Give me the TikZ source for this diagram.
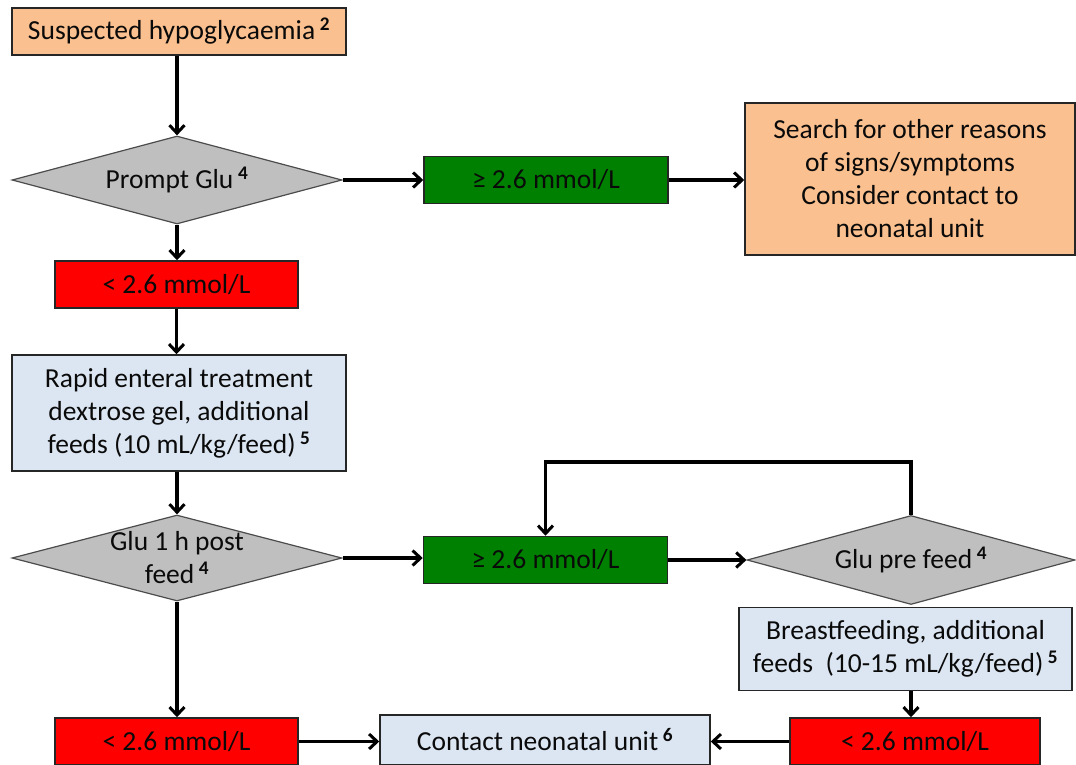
\documentclass[tikz,border=0pt]{standalone}
\usepackage{fontspec}
\setmainfont{Carlito}
\usetikzlibrary{shapes.geometric,arrows.meta}
\definecolor{peach}{RGB}{250,192,143}
\definecolor{lblue}{RGB}{220,230,242}
\definecolor{dgray}{RGB}{191,191,191}
\definecolor{dgreen}{RGB}{0,128,0}
\definecolor{bred}{RGB}{255,0,0}
\definecolor{txt}{RGB}{10,10,10}
\newcommand{\sups}[1]{\,\textsuperscript{\bfseries #1}}
\begin{document}
\begin{tikzpicture}[x=1pt,y=-1pt,
  every node/.style={font=\fontsize{27.5}{33}\selectfont, text=txt},
  box/.style={draw=black!85, line width=1.5pt, inner sep=0pt, align=center},
  orangebox/.style={box, fill=peach},
  bluebox/.style={box, fill=lblue},
  greenbox/.style={box, fill=dgreen, minimum width=244, minimum height=47},
  redbox/.style={box, fill=bred, minimum height=47},
  dia/.style={diamond, draw=black!70, line width=1.2pt, fill=dgray, inner sep=0pt},
  arr/.style={line width=3.2pt, -{Straight Barb[length=8pt,width=15pt,line width=3pt]}}
]
\useasboundingbox (0,0) rectangle (1076,765);

\node[orangebox, minimum width=334, minimum height=47] (sus) at (179,31.5) {Suspected hypoglycaemia\sups{2}};
\node[dia, minimum width=330, minimum height=88, label={center:{Prompt Glu\sups{4}}}] (d1) at (177,180) {};
\node[greenbox] (g1) at (546,180) {≥ 2.6 mmol/L};
\node[orangebox, minimum width=330, minimum height=152] (or1) at (910,179) {Search for other reasons\\of signs/symptoms\\Consider contact to\\neonatal unit};
\node[redbox, minimum width=243] (r1) at (176.5,284.5) {< 2.6 mmol/L};
\node[bluebox, minimum width=334, minimum height=116] (b1) at (179,413) {Rapid enteral treatment\\dextrose gel, additional\\feeds (10 mL/kg/feed)\sups{5}};
\node[dia, minimum width=330, minimum height=86, label={[align=center]center:{Glu 1 h post\\feed\sups{4}}}] (d2) at (177,558) {};
\node[greenbox] (g2) at (545.5,560) {≥ 2.6 mmol/L};
\node[bluebox, minimum width=333, minimum height=83] (b2) at (905.5,649) {Breastfeeding, additional\\feeds~ (10-15 mL/kg/feed)\sups{5}};
\node[dia, minimum width=328, minimum height=89, label={center:{Glu pre feed\sups{4}}}] (d3) at (911,560) {};
\node[redbox, minimum width=243] (r2) at (176.5,741.5) {< 2.6 mmol/L};
\node[bluebox, minimum width=330, minimum height=50] (cn) at (545,740) {Contact neonatal unit\sups{6}};
\node[redbox, minimum width=250] (r3) at (915,741.5) {< 2.6 mmol/L};

\coordinate (lp) at (0,462);

\draw[arr] (d1.north |- sus.south) -- (d1.north);
\draw[arr] (d1.east) -- (g1.west);
\draw[arr] (g1.east) -- (g1.east -| or1.west);
\draw[arr] (d1.south) -- (d1.south |- r1.north);
\draw[arr] (r1.south) -- (r1.south |- b1.north);
\draw[arr] (d2.north |- b1.south) -- (d2.north);
\draw[arr] (d2.east) -- (d2.east -| g2.west);
\draw[arr] (g2.east) -- (d3.west);
\draw[arr] (d3.north) -- (d3.north |- lp) -| (g2.north);
\draw[arr] (d2.south) -- (d2.south |- r2.north);
\draw[arr] (r2.east) -- (r2.east -| cn.west);
\draw[arr] (r3.west) -- (r3.west -| cn.east);
\draw[arr] (d3.south |- b2.south) -- (d3.south |- r3.north);
\end{tikzpicture}
\end{document}
